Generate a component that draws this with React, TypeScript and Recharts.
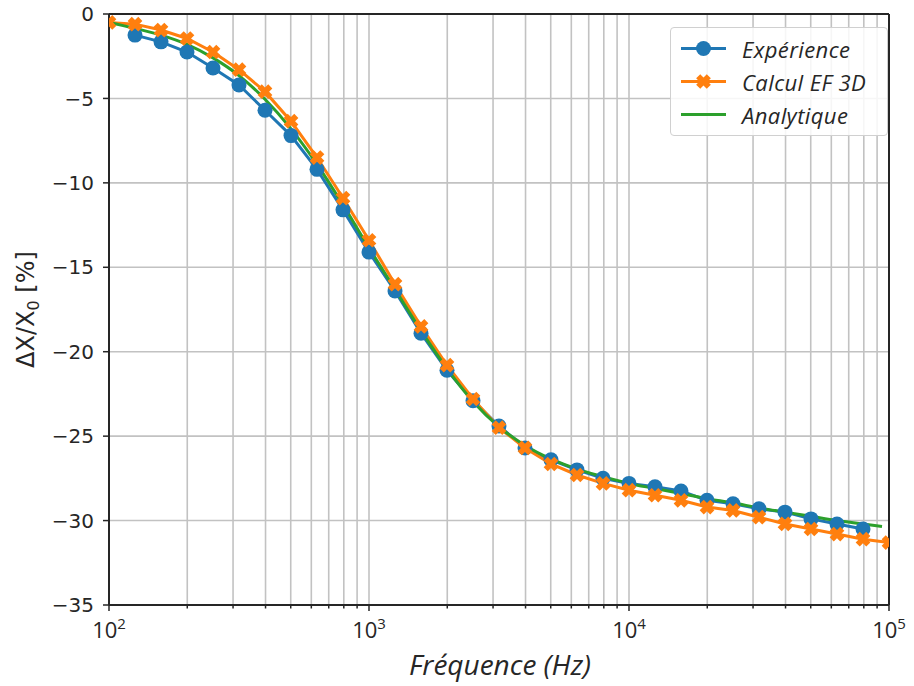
import { LineChart, Line, XAxis, YAxis, CartesianGrid, ReferenceLine } from 'recharts';

// fréquences (Hz), 10 points par décade
const freqs = [
  100, 125.9, 158.5, 199.5, 251.2, 316.2, 398.1, 501.2, 631, 794.3,
  1000, 1259, 1585, 1995, 2512, 3162, 3981, 5012, 6310, 7943,
  10000, 12589, 15849, 19953, 25119, 31623, 39811, 50119, 63096, 79433, 100000,
];

// Expérience : pas de point à 100 Hz ni à 100 kHz
const experience = [
  null, -1.25, -1.65, -2.25, -3.2, -4.2, -5.7, -7.2, -9.2, -11.6,
  -14.1, -16.4, -18.9, -21.1, -22.9, -24.4, -25.7, -26.4, -27.0, -27.5,
  -27.8, -28.0, -28.25, -28.8, -29.0, -29.3, -29.5, -29.9, -30.2, -30.5, null,
];

const calculEF = [
  -0.5, -0.6, -0.95, -1.45, -2.25, -3.3, -4.6, -6.35, -8.5, -10.9,
  -13.4, -16.0, -18.5, -20.8, -22.8, -24.5, -25.7, -26.65, -27.3, -27.8,
  -28.2, -28.5, -28.8, -29.2, -29.4, -29.8, -30.2, -30.5, -30.8, -31.1, -31.3,
];

const analyticFreqs = [
  100, 125.9, 158.5, 199.5, 251.2, 316.2, 398.1, 501.2, 631, 794.3,
  1000, 1259, 1585, 1995, 2512, 3162, 3981, 5012, 6310, 7943,
  10000, 12589, 15849, 19953, 25119, 31623, 39811, 50119, 63096, 79433, 94000,
];
const analytique = [
  -0.5, -0.85, -1.25, -1.8, -2.6, -3.65, -5.05, -6.8, -8.9, -11.3,
  -13.85, -16.3, -18.75, -21.0, -22.95, -24.45, -25.55, -26.35, -26.95, -27.4,
  -27.8, -28.1, -28.4, -28.7, -28.95, -29.25, -29.5, -29.75, -30.0, -30.2, -30.35,
];

const xTicks = [
  100, 200, 300, 400, 500, 600, 700, 800, 900,
  1000, 2000, 3000, 4000, 5000, 6000, 7000, 8000, 9000,
  10000, 20000, 30000, 40000, 50000, 60000, 70000, 80000, 90000, 100000,
];
const yTicks = [-35, -30, -25, -20, -15, -10, -5, 0];

const BLUE = '#1f77b4';
const ORANGE = '#ff7f0e';
const GREEN = '#2ca02c';
const INK = '#262626';

const expData = freqs
  .map((f, i) => ({ f, v: experience[i] }))
  .filter((d) => d.v !== null);
const calcData = freqs.map((f, i) => ({ f, v: calculEF[i] }));
const anaData = analyticFreqs.map((f, i) => ({ f, v: analytique[i] }));

function XTick(props: any) {
  const { x, y, payload } = props;
  const exp = Math.log10(payload.value);
  const major = Math.abs(exp - Math.round(exp)) < 1e-9;
  return (
    <g>
      <line x1={x} y1={y} x2={x} y2={y + (major ? 6 : 3.5)} stroke={INK} strokeWidth={1.5} />
      {major && (
        <text
          x={x}
          y={y + 33}
          textAnchor="middle"
          fill={INK}
          fontFamily="'Open Sans', sans-serif"
          fontSize={22}
        >
          10
          <tspan fontSize={15} dy={-9}>{Math.round(exp)}</tspan>
        </text>
      )}
    </g>
  );
}

function XTitle(props: any) {
  const { viewBox } = props;
  return (
    <text
      x={viewBox.x + viewBox.width / 2 + 1}
      y={675}
      textAnchor="middle"
      fill={INK}
      fontFamily="'Open Sans', sans-serif"
      fontStyle="italic"
      fontSize={28}
    >
      Fréquence (Hz)
    </text>
  );
}

function YTitle(props: any) {
  const { viewBox } = props;
  const cy = viewBox.y + viewBox.height / 2;
  return (
    <text
      x={34}
      y={cy}
      transform={`rotate(-90, 34, ${cy})`}
      textAnchor="middle"
      fill={INK}
      fontFamily="'DejaVu Sans', sans-serif"
      fontSize={24}
    >
      ΔX/X<tspan fontSize={16} dy={5}>0</tspan>
      <tspan dy={-5}> [%]</tspan>
    </text>
  );
}

function XMarker(props: any) {
  const { cx, cy } = props;
  if (cx == null || cy == null) return null;
  const r = 7.5;
  const w = 2.9;
  const pts = [
    [-w, -r], [w, -r], [w, -w], [r, -w], [r, w], [w, w],
    [w, r], [-w, r], [-w, w], [-r, w], [-r, -w], [-w, -w],
  ]
    .map(([a, b]) => `${cx + a},${cy + b}`)
    .join(' ');
  return <polygon points={pts} fill={ORANGE} transform={`rotate(45, ${cx}, ${cy})`} />;
}

function LegendBox() {
  const rows = [
    { label: 'Expérience', color: BLUE, marker: 'o' },
    { label: 'Calcul EF 3D', color: ORANGE, marker: 'x' },
    { label: 'Analytique', color: GREEN, marker: '' },
  ];
  return (
    <div
      style={{
        position: 'absolute',
        left: 670,
        top: 27,
        width: 218,
        height: 109,
        border: '1px solid #d0d0d0',
        borderRadius: 4,
        background: 'rgba(255,255,255,0.85)',
        boxSizing: 'border-box',
      }}
    >
      {rows.map((r, i) => (
        <div
          key={r.label}
          style={{ position: 'absolute', left: 0, top: 4 + i * 33, height: 33, display: 'flex', alignItems: 'center' }}
        >
          <svg width={64} height={33} style={{ display: 'block' }}>
            <line x1={10} y1={16.5} x2={55} y2={16.5} stroke={r.color} strokeWidth={3} />
            {r.marker === 'o' && <circle cx={32.5} cy={16.5} r={7.5} fill={r.color} />}
            {r.marker === 'x' && <XMarker cx={32.5} cy={16.5} />}
          </svg>
          <span
            style={{
              marginLeft: 7,
              fontFamily: "'Open Sans', sans-serif",
              fontStyle: 'italic',
              fontSize: 22,
              letterSpacing: 0.4,
              color: INK,
              whiteSpace: 'nowrap',
            }}
          >
            {r.label}
          </span>
        </div>
      ))}
    </div>
  );
}

export default function App() {
  return (
    <div style={{ position: 'absolute', left: 0, top: 0, width: 914, height: 686, background: '#fff' }}>
      <LineChart
        width={914}
        height={686}
        margin={{ top: 14, right: 25, bottom: 0, left: 0 }}
      >
        <CartesianGrid stroke="#c2c2c2" strokeWidth={1.6} />
        <XAxis
          dataKey="f"
          type="number"
          scale="log"
          domain={[100, 100000]}
          ticks={xTicks}
          allowDataOverflow
          height={81}
          tickSize={0}
          tickMargin={0}
          tickLine={false}
          interval={0}
          tick={<XTick />}
          axisLine={{ stroke: INK, strokeWidth: 2 }}
          label={{ content: XTitle }}
        />
        <YAxis
          type="number"
          domain={[-35, 0]}
          ticks={yTicks}
          width={109}
          tickSize={6}
          tickMargin={9}
          interval={0}
          tickLine={{ stroke: INK, strokeWidth: 1.5 }}
          axisLine={{ stroke: INK, strokeWidth: 2 }}
          tick={{ fill: INK, fontSize: 20, fontFamily: "'DejaVu Sans', sans-serif" }}
          tickFormatter={(v: number) => (v < 0 ? `−${Math.abs(v)}` : String(v))}
          label={{ content: YTitle }}
        />
        <ReferenceLine y={0} stroke={INK} strokeWidth={2} />
        <ReferenceLine x={100000} stroke={INK} strokeWidth={2} />
        <Line
          data={expData}
          dataKey="v"
          stroke={BLUE}
          strokeWidth={3}
          dot={{ r: 7.5, fill: BLUE, stroke: BLUE, strokeWidth: 0 }}
          isAnimationActive={false}
        />
        <Line
          data={calcData}
          dataKey="v"
          stroke={ORANGE}
          strokeWidth={3}
          dot={<XMarker />}
          isAnimationActive={false}
        />
        <Line
          data={anaData}
          dataKey="v"
          type="monotone"
          stroke={GREEN}
          strokeWidth={3}
          dot={false}
          isAnimationActive={false}
        />
      </LineChart>
      <LegendBox />
    </div>
  );
}
